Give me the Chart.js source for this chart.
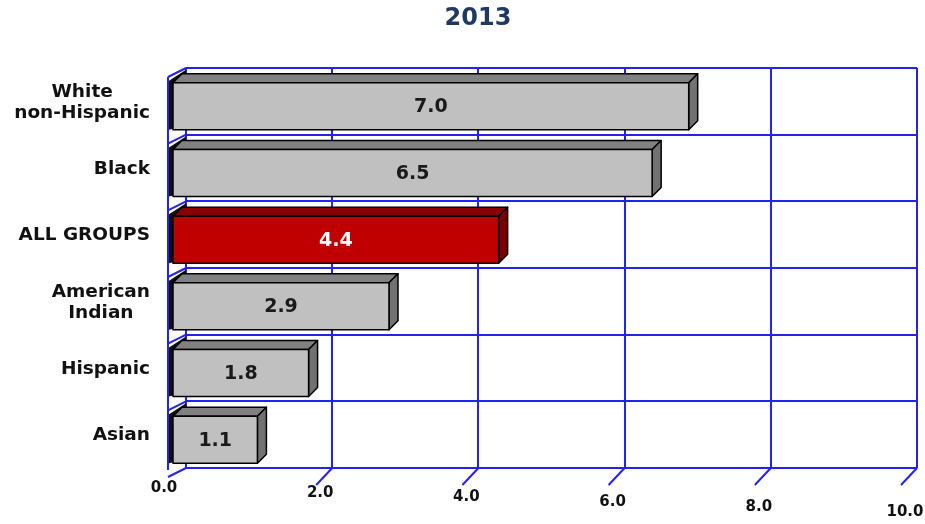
<!DOCTYPE html>
<html>
<head>
<meta charset="utf-8">
<title>2013</title>
<script src="https://cdn.jsdelivr.net/npm/chart.js@4.4.1/dist/chart.umd.min.js"></script>
<style>
  html, body { margin: 0; padding: 0; background: #ffffff; }
  #wrap { width: 925px; height: 524px; }
</style>
</head>
<body>
<div id="wrap"><canvas id="chart" width="925" height="524"></canvas></div>
<script>
// data
const chartTitle = '2013';
const categories = [['White', 'non-Hispanic'], 'Black', 'ALL GROUPS', ['American', 'Indian'], 'Hispanic', 'Asian'];
const values = [7.0, 6.5, 4.4, 2.9, 1.8, 1.1];
const xTicks = [0, 2, 4, 6, 8, 10];
const highlight = 'ALL GROUPS';

const GRID_BLUE = '#2222f2';
const DEPTH_X = 9, DEPTH_Y = 9;

// 3D look: draws the bars as boxes plus the left wall, labels and slanted ticks
const box3d = {
    id: 'box3d',
    afterDatasetsDraw(chart) {
        const ctx = chart.ctx;
        const area = chart.chartArea;
        const xs = chart.scales.x;
        const ys = chart.scales.y;
        const meta = chart.getDatasetMeta(0);
        const wallX = area.left - 18;

        ctx.save();

        // title, centred on the whole picture
        ctx.fillStyle = '#1f3864';
        ctx.font = 'bold 24px "DejaVu Sans", Verdana, sans-serif';
        ctx.textAlign = 'center';
        ctx.textBaseline = 'middle';
        ctx.fillText(chartTitle, 478, 19);

        // black shadows on the left wall
        meta.data.forEach(function(el) {
            const p = el.getProps(['x', 'y', 'base', 'height'], true);
            const y0 = p.y - p.height / 2 + 5;
            const y1 = y0 + p.height;
            ctx.fillStyle = '#111111';
            ctx.beginPath();
            ctx.moveTo(wallX + 1, y0 - 2);
            ctx.lineTo(area.left, y0 - DEPTH_Y - 4);
            ctx.lineTo(area.left, y1 - 4);
            ctx.lineTo(wallX + 1, y1);
            ctx.closePath();
            ctx.fill();
        });

        // left wall lines
        ctx.strokeStyle = GRID_BLUE;
        ctx.lineWidth = 2;
        ctx.beginPath();
        ctx.moveTo(wallX, area.top + 9);
        ctx.lineTo(wallX, area.bottom + 2);
        for (let i = 0; i <= categories.length; i++) {
            const b = area.top + (area.bottom - area.top) * i / categories.length;
            ctx.moveTo(wallX, b + 9);
            ctx.lineTo(area.left, b);
        }
        // slanted tick marks below the floor
        xTicks.forEach(function(v) {
            if (v === 0) return;
            const px = xs.getPixelForValue(v);
            ctx.moveTo(px, area.bottom);
            ctx.lineTo(px - 16, area.bottom + 17);
        });
        ctx.stroke();

        // bars as boxes
        meta.data.forEach(function(el, i) {
            const p = el.getProps(['x', 'y', 'base', 'height'], true);
            const red = (categories[i] === highlight);
            const x0 = p.base - 14;
            const xr = p.x - DEPTH_X;
            const y0 = p.y - p.height / 2 + 5;
            const y1 = y0 + p.height;

            ctx.lineWidth = 1.5;
            ctx.strokeStyle = '#000000';
            ctx.lineJoin = 'round';

            // top face
            ctx.fillStyle = red ? '#8a0000' : '#808080';
            ctx.beginPath();
            ctx.moveTo(x0, y0);
            ctx.lineTo(x0 + DEPTH_X, y0 - DEPTH_Y);
            ctx.lineTo(xr + DEPTH_X, y0 - DEPTH_Y);
            ctx.lineTo(xr, y0);
            ctx.closePath();
            ctx.fill();
            ctx.stroke();

            // side face
            ctx.fillStyle = red ? '#7a0000' : '#727272';
            ctx.beginPath();
            ctx.moveTo(xr, y0);
            ctx.lineTo(xr + DEPTH_X, y0 - DEPTH_Y);
            ctx.lineTo(xr + DEPTH_X, y1 - DEPTH_Y);
            ctx.lineTo(xr, y1);
            ctx.closePath();
            ctx.fill();
            ctx.stroke();

            // front face
            ctx.fillStyle = red ? '#c00000' : '#c0c0c0';
            ctx.fillRect(x0, y0, xr - x0, y1 - y0);
            ctx.strokeRect(x0, y0, xr - x0, y1 - y0);

            // value
            ctx.fillStyle = red ? '#ffffff' : '#1a1a1a';
            ctx.font = 'bold 19px "DejaVu Sans", Verdana, sans-serif';
            ctx.textAlign = 'center';
            ctx.textBaseline = 'middle';
            ctx.fillText(values[i].toFixed(1), (x0 + xr) / 2, (y0 + y1) / 2 + 1);
        });

        // category labels: block right-aligned, lines centred inside the block
        ctx.fillStyle = '#111111';
        ctx.font = 'bold 18.5px "DejaVu Sans", Verdana, sans-serif';
        ctx.textBaseline = 'middle';
        ctx.textAlign = 'center';
        categories.forEach(function(lab, i) {
            const lines = Array.isArray(lab) ? lab : [lab];
            const cy = ys.getPixelForValue(i) + 1;
            let w = 0;
            lines.forEach(function(l) { w = Math.max(w, ctx.measureText(l).width); });
            const cx = 150 - w / 2;
            const lh = 21;
            lines.forEach(function(l, k) {
                ctx.fillText(l, cx, cy + (k - (lines.length - 1) / 2) * lh);
            });
        });

        // x tick labels, following the slanted ticks
        ctx.font = 'bold 15px "DejaVu Sans", Verdana, sans-serif';
        xTicks.forEach(function(v) {
            const px = xs.getPixelForValue(v);
            ctx.fillText(v.toFixed(1), px - (v === 0 ? 22 : 12), area.bottom + 20 + v * 2.4);
        });

        ctx.restore();
    }
};

new Chart(document.getElementById('chart'), {
    type: 'bar',
    data: {
        labels: categories,
        datasets: [{
            data: values,
            backgroundColor: 'rgba(0,0,0,0)',
            borderWidth: 0,
            barPercentage: 0.705,
            categoryPercentage: 1.0
        }]
    },
    options: {
        indexAxis: 'y',
        responsive: false,
        animation: false,
        layout: { padding: { left: 186, right: 8, top: 68, bottom: 56 } },
        scales: {
            x: {
                min: 0,
                max: 10,
                ticks: { display: false, stepSize: 2 },
                grid: { color: GRID_BLUE, lineWidth: 2, drawTicks: false },
                border: { display: false }
            },
            y: {
                ticks: { display: false },
                grid: { color: GRID_BLUE, lineWidth: 2, drawTicks: false, offset: true },
                border: { display: false }
            }
        },
        plugins: {
            legend: { display: false },
            tooltip: { enabled: false },
            title: { display: false }
        }
    },
    plugins: [box3d]
});
</script>
</body>
</html>
